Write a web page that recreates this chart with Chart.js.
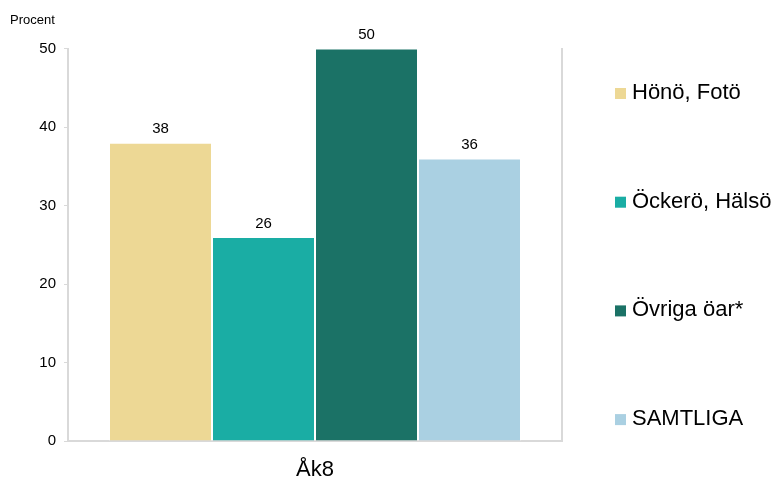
<!DOCTYPE html>
<html>
<head>
<meta charset="utf-8">
<script src="https://cdn.jsdelivr.net/npm/chart.js@4/dist/chart.umd.min.js"></script>
<style>
  html, body { margin: 0; padding: 0; background: #fff; }
  #wrap { width: 776px; height: 480px; }
</style>
</head>
<body>
<div id="wrap"><canvas id="c" width="776" height="480"></canvas></div>
<script>
const categories = ['Åk8'];
const seriesNames = ['Hönö, Fotö', 'Öckerö, Hälsö', 'Övriga öar*', 'SAMTLIGA'];
const hono = [38];
const ockero = [26];
const ovriga = [50];
const samtliga = [36];
const seriesColors = ['#EDD895', '#1AADA4', '#1B7266', '#AAD0E2'];
const yTicks = [0, 10, 20, 30, 40, 50];

const FONT = "'Liberation Sans', Arial, sans-serif";
const seriesData = [hono, ockero, ovriga, samtliga];

const valueLabels = {
  id: 'valueLabels',
  afterDatasetsDraw(chart) {
    const ctx = chart.ctx;
    ctx.save();
    ctx.font = "15px " + FONT;
    ctx.fillStyle = '#000';
    ctx.textAlign = 'center';
    ctx.textBaseline = 'bottom';
    chart.data.datasets.forEach((ds, i) => {
      const meta = chart.getDatasetMeta(i);
      meta.data.forEach((bar, j) => {
        ctx.fillText(String(ds.data[j]), bar.x, bar.y - 6);
      });
    });
    ctx.restore();
  }
};

const sideLegend = {
  id: 'sideLegend',
  afterDraw(chart) {
    const ctx = chart.ctx;
    ctx.save();
    ctx.font = "22px " + FONT;
    ctx.textBaseline = 'middle';
    ctx.textAlign = 'left';
    const boxX = chart.chartArea.right + 53;
    const startY = 93;
    const step = 108.7;
    chart.data.datasets.forEach((ds, i) => {
      const y = startY + i * step;
      ctx.fillStyle = ds.backgroundColor;
      ctx.fillRect(boxX, y - 5, 11, 11);
      ctx.fillStyle = '#000';
      ctx.fillText(ds.label, boxX + 17, y);
    });
    ctx.restore();
  }
};

new Chart(document.getElementById('c'), {
  type: 'bar',
  data: {
    labels: categories,
    datasets: seriesNames.map((n, i) => ({
      label: n,
      data: seriesData[i],
      backgroundColor: seriesColors[i],
      borderColor: '#ffffff',
      borderWidth: 1,
      categoryPercentage: 0.834,
      barPercentage: 1.0
    }))
  },
  options: {
    responsive: false,
    animation: false,
    layout: { padding: { left: 10, right: 214, top: 13, bottom: 0 } },
    plugins: {
      title: {
        display: true, text: 'Procent', align: 'start',
        color: '#000', font: { family: FONT, size: 13, weight: 'normal' },
        padding: { top: 0, bottom: 20 }
      },
      legend: { display: false },
      tooltip: { enabled: false }
    },
    scales: {
      x: {
        grid: { display: false },
        border: { display: true, color: '#d9d9d9', width: 2 },
        ticks: { color: '#000', font: { family: FONT, size: 22 }, padding: 8 },
        afterFit(scale) { scale.height = 39; }
      },
      y: {
        min: 0, max: 50,
        afterBuildTicks(scale) { scale.ticks = yTicks.map(v => ({ value: v })); },
        grid: { display: true, drawOnChartArea: false, drawTicks: true, tickLength: 4, color: '#d9d9d9' },
        border: { display: true, color: '#d9d9d9', width: 2 },
        ticks: { color: '#000', font: { family: FONT, size: 15 }, padding: 8 },
        afterFit(scale) { scale.width = 58; }
      },
      y2: {
        position: 'right',
        min: 0, max: 50,
        grid: { display: false },
        ticks: { display: false },
        border: { display: true, color: '#d9d9d9', width: 2 },
        afterFit(scale) { scale.width = 0; }
      }
    }
  },
  plugins: [valueLabels, sideLegend]
});
</script>
</body>
</html>
